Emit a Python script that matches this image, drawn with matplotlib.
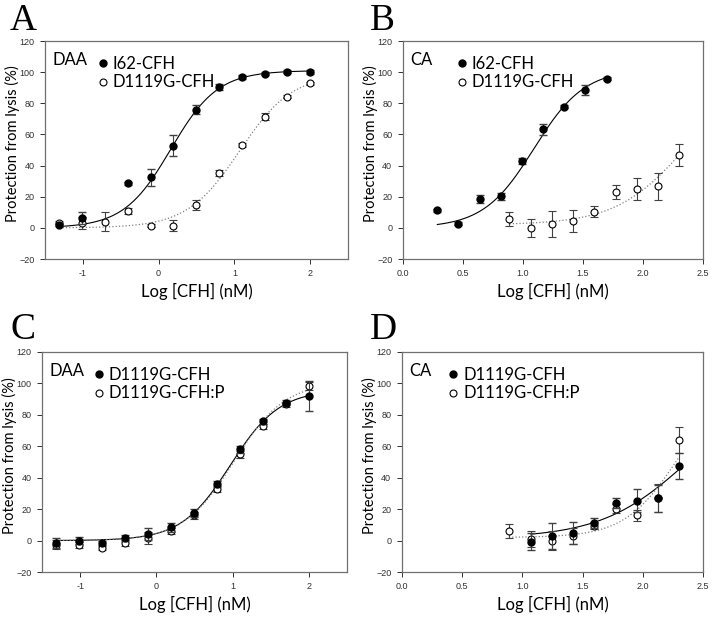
import numpy as np
import matplotlib.pyplot as plt

# log10 of CFH dilution series
x_daa = [-1.311, -1.010, -0.709, -0.408, -0.107, 0.194, 0.495, 0.796, 1.097, 1.398, 1.699, 2.000]

# panel A (DAA): I62-CFH (filled) vs D1119G-CFH (open)
a_x1 = [-1.311, -1.010, -0.408, -0.107, 0.194, 0.495, 0.796, 1.097, 1.398, 1.699, 2.000]
a_y1 = [2.0, 6.2, 28.6, 32.5, 52.8, 76.0, 90.7, 96.9, 99.0, 100.3, 100.1]
a_e1 = [1.0, 4.0, 1.0, 5.4, 6.7, 3.0, 2.0, 1.0, 1.0, 1.0, 1.0]
a_y2 = [3.4, 3.4, 4.0, 11.0, 1.5, 1.5, 14.7, 35.0, 53.2, 71.4, 84.3, 92.9]
a_e2 = [1.0, 3.9, 6.0, 2.0, 1.0, 3.5, 3.2, 2.0, 1.5, 2.4, 1.0, 1.0]

# panel B (CA)
b_x1 = [0.288, 0.464, 0.640, 0.816, 0.992, 1.168, 1.344, 1.520, 1.696]
b_y1 = [11.3, 2.8, 18.5, 20.3, 42.8, 63.3, 77.8, 88.8, 95.8]
b_e1 = [1.0, 1.0, 2.3, 2.3, 2.0, 3.5, 1.0, 3.2, 1.0]
b_x2 = [0.888, 1.066, 1.240, 1.417, 1.594, 1.775, 1.950, 2.125, 2.300]
b_y2 = [5.8, 0.0, 2.6, 4.5, 10.4, 22.8, 24.9, 26.6, 46.6]
b_e2 = [4.3, 6.0, 8.5, 7.0, 3.5, 4.5, 7.2, 8.4, 7.0]

# panel C (DAA): D1119G-CFH (filled) vs D1119G-CFH:P (open)
c_y1 = [-1.5, 0.0, -1.5, 1.5, 4.3, 8.5, 17.5, 36.2, 58.0, 75.8, 87.7, 92.0]
c_e1 = [3.0, 2.0, 1.5, 2.0, 4.0, 3.0, 2.5, 2.0, 2.0, 1.5, 1.5, 9.3]
c_y2 = [-2.5, -2.8, -4.7, -1.5, 1.7, 6.0, 16.0, 32.8, 54.8, 72.8, 86.7, 98.4]
c_e2 = [3.0, 2.0, 1.5, 2.0, 4.0, 2.0, 2.0, 2.0, 2.0, 1.5, 1.5, 2.7]

# panel D (CA)
d_x1 = [1.071, 1.245, 1.419, 1.594, 1.774, 1.948, 2.125, 2.300]
d_y1 = [-0.6, 3.0, 5.1, 11.0, 23.7, 25.4, 27.0, 47.5]
d_e1 = [5.3, 8.5, 7.0, 3.2, 3.2, 7.5, 8.5, 8.0]
d_x2 = [0.888, 1.071, 1.245, 1.419, 1.594, 1.774, 1.948, 2.125, 2.300]
d_y2 = [6.2, 0.8, -0.2, 3.0, 9.6, 20.3, 16.0, 27.0, 64.0]
d_e2 = [4.5, 5.0, 6.0, 5.0, 2.5, 3.0, 3.7, 8.8, 8.0]

# four-parameter logistic fits: bottom, top, logEC50, hill
a_fit1 = [0.0, 101.0, 0.16, 1.4]
a_fit2 = [0.0, 99.0, 1.07, 1.25]
b_fit1 = [0.0, 102.0, 1.092, 2.07]
b_fit2 = [2.0, 100.0, 2.35, 1.5]
c_fit1 = [0.0, 96.0, 0.97, 1.35]
c_fit2 = [0.0, 101.0, 1.02, 1.3]
d_fit1 = [1.5, 100.0, 2.38, 1.2]
d_fit2 = [2.0, 100.0, 2.28, 2.0]


def logistic(x, p):
    bottom, top, ec, h = p
    return bottom + (top - bottom) / (1 + 10 ** ((ec - x) * h))


def panel(ax, x1, y1, e1, x2, y2, e2, fit1, fit2, tag, names, xlim, xticks, xfmt, legx):
    xx = np.linspace(min(x1), max(x1), 200)
    ax.plot(xx, logistic(xx, fit1), '-', color='black', lw=0.8, zorder=2)
    xx = np.linspace(min(x2), max(x2), 200)
    ax.plot(xx, logistic(xx, fit2), ':', color='#808080', lw=0.9, zorder=2)

    ax.errorbar(x2, y2, yerr=e2, fmt='o', mfc='white', mec='black', mew=0.8,
                ms=5, ecolor='#404040', elinewidth=0.8, capsize=3, zorder=3)
    ax.errorbar(x1, y1, yerr=e1, fmt='o', mfc='black', mec='black',
                ms=5, ecolor='#404040', elinewidth=0.8, capsize=3, zorder=4)

    ax.set_xlim(xlim)
    ax.set_ylim(-20, 120)
    ax.set_xticks(xticks)
    ax.set_xticklabels([xfmt.format(t) for t in xticks])
    ax.set_yticks(range(-20, 121, 20))
    ax.tick_params(direction='out', length=3.5, width=0.7, labelsize=6.5,
                   colors='#303030', pad=4)
    for s in ax.spines.values():
        s.set_color('#707070')
        s.set_linewidth(0.9)
    for lab in ax.get_xticklabels() + ax.get_yticklabels():
        lab.set_fontfamily('Liberation Sans')

    ax.set_xlabel('Log [CFH] (nM)', fontsize=12, fontfamily='Lato', labelpad=3)
    ax.set_ylabel('Protection from lysis (%)', fontsize=10.5, fontfamily='Lato')
    ax.yaxis.set_label_coords(-0.083, 0.53)

    ax.text(0.025, 0.915, tag, transform=ax.transAxes, fontsize=12,
            fontfamily='Lato', va='center')
    ax.plot([], [], 'o', color='black', ms=5, label=names[0])
    ax.plot([], [], 'o', mfc='white', mec='black', mew=0.8, ms=5, label=names[1])
    h, l = ax.get_legend_handles_labels()
    ax.legend(h[-2:], l[-2:], loc='upper left', bbox_to_anchor=(legx, 0.985),
              frameon=False, handletextpad=0.1, handlelength=1.0, borderpad=0.2,
              labelspacing=0.15, prop={'family': 'Lato', 'size': 12})


fig = plt.figure(figsize=(7.13, 6.17), dpi=100)
axA = fig.add_axes([0.0631, 0.5802, 0.425, 0.3533])
axB = fig.add_axes([0.5648, 0.5802, 0.4216, 0.3533])
axC = fig.add_axes([0.0589, 0.0729, 0.4278, 0.3566])
axD = fig.add_axes([0.5634, 0.0729, 0.4230, 0.3566])

panel(axA, a_x1, a_y1, a_e1, x_daa, a_y2, a_e2, a_fit1, a_fit2, 'DAA',
      ['I62-CFH', 'D1119G-CFH'], (-1.5, 2.5), [-1, 0, 1, 2], '{:d}', 0.125)
panel(axB, b_x1, b_y1, b_e1, b_x2, b_y2, b_e2, b_fit1, b_fit2, 'CA',
      ['I62-CFH', 'D1119G-CFH'], (0, 2.5), [0, 0.5, 1.0, 1.5, 2.0, 2.5], '{:.1f}', 0.13)
panel(axC, x_daa, c_y1, c_e1, x_daa, c_y2, c_e2, c_fit1, c_fit2, 'DAA',
      ['D1119G-CFH', 'D1119G-CFH:P'], (-1.5, 2.5), [-1, 0, 1, 2], '{:d}', 0.12)
panel(axD, d_x1, d_y1, d_e1, d_x2, d_y2, d_e2, d_fit1, d_fit2, 'CA',
      ['D1119G-CFH', 'D1119G-CFH:P'], (0, 2.5), [0, 0.5, 1.0, 1.5, 2.0, 2.5], '{:.1f}', 0.105)

for lbl, px, py in [('A', 10, 30), ('B', 370, 30), ('C', 10, 339), ('D', 370, 339)]:
    fig.text(px / 713, 1 - py / 617, lbl, fontsize=27, fontfamily='Liberation Serif')

fig.savefig('out.png', dpi=100)
